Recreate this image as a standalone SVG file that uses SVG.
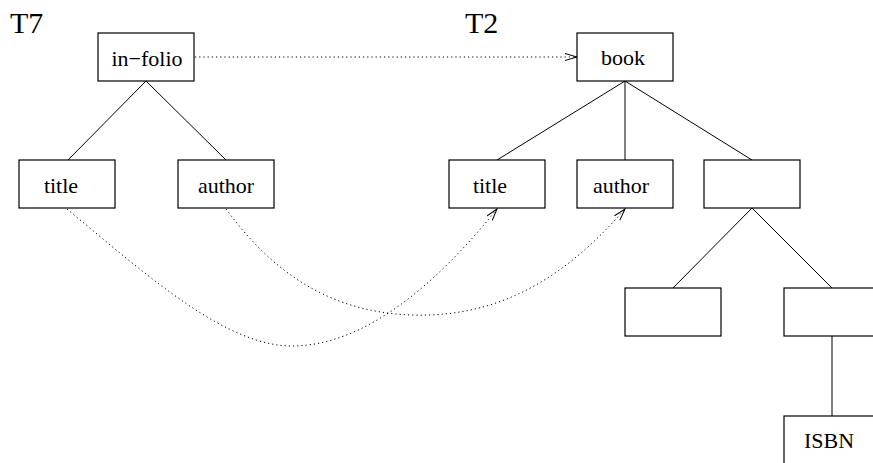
<svg xmlns="http://www.w3.org/2000/svg" width="873" height="463" viewBox="0 0 873 463">
<defs>
<marker id="open" markerWidth="14" markerHeight="10" refX="12" refY="4" orient="auto" markerUnits="userSpaceOnUse">
<path d="M0,0.5 L12,4 L0,7.5" fill="none" stroke="#000" stroke-width="1"/>
</marker>
</defs>
<style>
rect{fill:#fff;stroke:#000;stroke-width:1.2}
text{font-family:"Liberation Serif","Times New Roman",serif;font-size:22px;fill:#000}
.big{font-size:30px}
.m{text-anchor:middle}
.edge{stroke:#000;stroke-width:1;fill:none}
.dot{stroke:#000;stroke-width:1;fill:none;stroke-dasharray:1.2,3}
</style>
<rect x="0" y="0" width="873" height="463" style="fill:#fff;stroke:none"/>
<text class="big" x="10" y="33">T7</text>
<text class="big" x="465" y="33">T2</text>
<g id="connectors">
<line class="edge" x1="146" y1="81" x2="68" y2="160"/>
<line class="edge" x1="146" y1="81" x2="226" y2="160"/>
<line class="edge" x1="625" y1="81" x2="497" y2="160"/>
<line class="edge" x1="625" y1="81" x2="625" y2="160"/>
<line class="edge" x1="625" y1="81" x2="752" y2="160"/>
<line class="edge" x1="752" y1="208" x2="673" y2="288"/>
<line class="edge" x1="752" y1="208" x2="832" y2="288"/>
<line class="edge" x1="832" y1="336" x2="832" y2="416"/>
<line class="dot" x1="195" y1="57" x2="577" y2="57" marker-end="url(#open)"/>
<path class="dot" d="M67,209 C150,278 228,348 295,346 C362,344 430,292 497,209" marker-end="url(#open)"/>
<path class="dot" d="M226,209 C265,262 320,312 412,315 C505,318 570,272 625,209" marker-end="url(#open)"/>
</g>
<g id="n-infolio"><rect x="98" y="33" width="96" height="48"/><text class="m" x="147" y="66">in−folio</text></g>
<g id="n-title7"><rect x="19" y="160" width="96" height="48"/><text class="m" x="61" y="193">title</text></g>
<g id="n-author7"><rect x="178" y="160" width="96" height="48"/><text class="m" x="226" y="193">author</text></g>
<g id="n-book"><rect x="577" y="33" width="96" height="48"/><text class="m" x="623" y="65">book</text></g>
<g id="n-title2"><rect x="449" y="160" width="96" height="48"/><text class="m" x="490" y="193">title</text></g>
<g id="n-author2"><rect x="577" y="160" width="96" height="48"/><text class="m" x="621" y="193">author</text></g>
<g id="n-blank1"><rect x="704" y="160" width="96" height="48"/></g>
<g id="n-blank2"><rect x="625" y="288" width="96" height="48"/></g>
<g id="n-blank3"><rect x="784" y="288" width="96" height="48"/></g>
<g id="n-isbn"><rect x="784" y="416" width="96" height="48"/><text x="804" y="448">ISBN</text></g>
</svg>
